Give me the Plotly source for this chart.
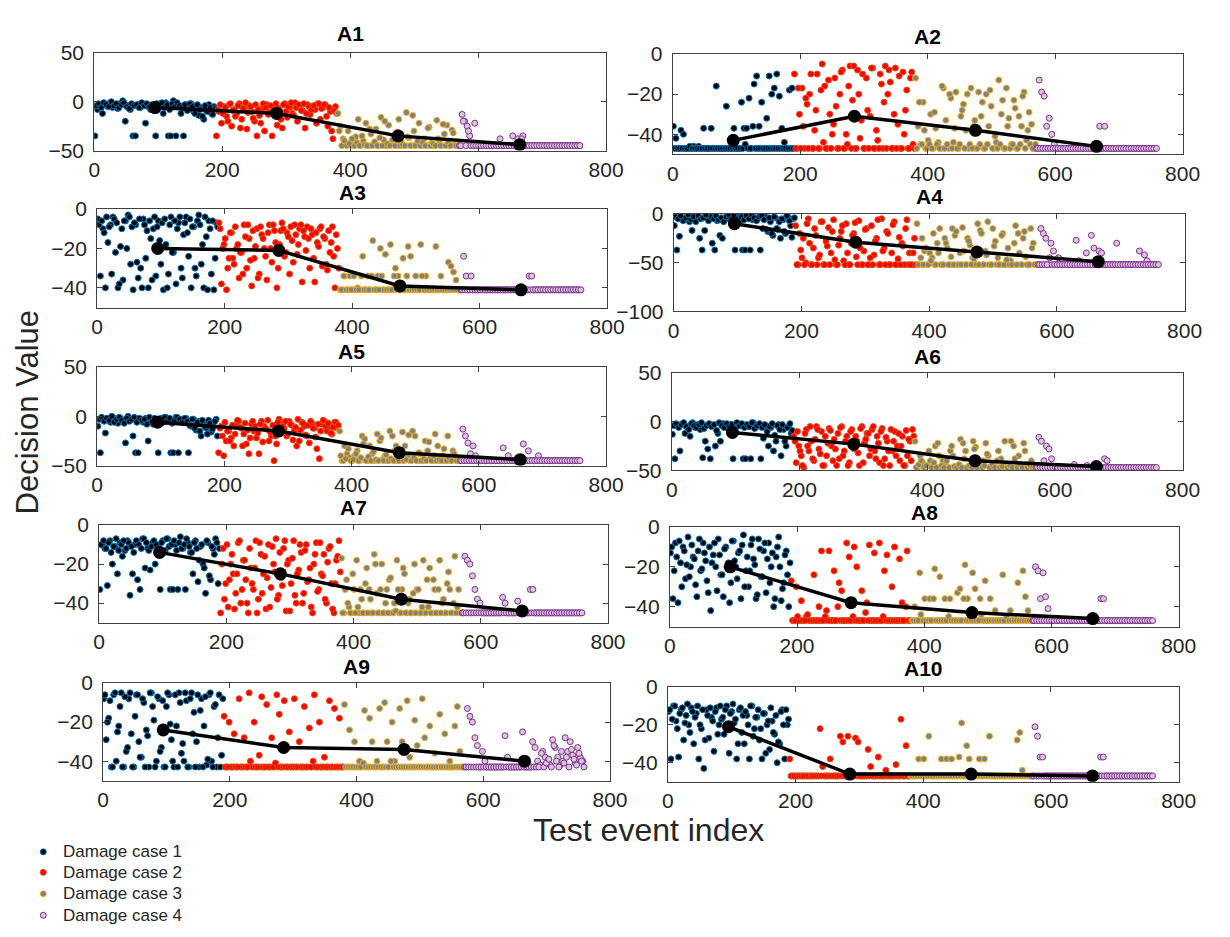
import plotly.graph_objects as go

# ---------------- data ----------------
case_names = ["Damage case 1", "Damage case 2", "Damage case 3", "Damage case 4"]
case_start = [0, 190, 380, 570]          # first test-event index of each case
case_len = 190
mean_x = [95, 285, 475, 665]
panel_titles = ["A1", "A2", "A3", "A4", "A5", "A6", "A7", "A8", "A9", "A10"]
x_ticks = [0, 200, 400, 600, 800]

y_ranges = [[-50, 50], [-50, 0], [-50, 0], [-100, 0], [-50, 50],
            [-50, 50], [-50, 0], [-50, 0], [-50, 0], [-50, 0]]
y_ticks = [[-50, 0, 50], [-40, -20, 0], [-40, -20, 0], [-100, -50, 0], [-50, 0, 50],
           [-50, 0, 50], [-40, -20, 0], [-40, -20, 0], [-40, -20, 0], [-40, -20, 0]]

# each case: two interleaved samples (a = events 1,5,9..., b = events 3,7,11...)
# A1
a1_c1 = [-35, -8, -3, -12, -2, -5, -1, -6, -3, -7, -2, 1, -20, -4, -8, -35, -35, -3, -6, -2, -22, -5, -8, -4,
         -35, -6, -2, -12, -1, -35, -35, 1, -35, -5, -12, -35, -3, -7, -2, -10, -4, -14, -6, -18, -9, -3, -12, -5]
a1_c1b = [-4, -2, -6, -1, -3, -5, 0, -4, -2, -6, -3, -1, -5, -7, -2, -4, -3, -6, -1, -4, -2, -5, -3, -7,
          -2, -4, -1, -6, -3, -8, -2, -5, -1, -4, -6, -3, -9, -2, -5, -12, -3, -8, -15, -4, -10, -6, -13, -7]
a1_c2 = [-35, -10, -22, -5, -15, -3, -25, -8, -12, -2, -18, -6, -28, -4, -10, -20, -35, -14, -7, -30, -3, -11, -35, -5,
         -24, -9, -27, -2, -16, -6, -12, -1, -20, -4, -9, -27, -3, -13, -5, -8, -2, -18, -6, -3, -25, -10, -38, -5]
a1_c2b = [-8, -3, -12, -6, -20, -2, -9, -15, -4, -27, -7, -1, -11, -5, -17, -3, -8, -22, -2, -6, -13, -4, -9, -2,
          -7, -18, -3, -10, -5, -1, -14, -6, -3, -9, -2, -12, -5, -8, -4, -22, -2, -7, -3, -15, -6, -30, -9, -12]
a1_c3 = [-12, -25, -38, -44, -30, -42, -45, -36, -18, -45, -40, -22, -45, -33, -43, -28, -45, -16, -39, -45, -24, -44, -35, -45,
         -18, -41, -45, -11, -37, -45, -30, -43, -22, -45, -38, -45, -26, -42, -45, -19, -40, -45, -33, -24, -45, -29, -44, -45]
a1_c3b = [-30, -45, -40, -45, -43, -38, -45, -42, -45, -35, -44, -45, -28, -45, -41, -45, -37, -45, -20, -43, -45, -39, -45, -31,
          -45, -44, -45, -36, -45, -14, -45, -40, -45, -42, -45, -27, -45, -43, -45, -38, -45, -23, -45, -41, -45, -32, -45, -45]
a1_c4 = [-45, -13, -20, -25, -35, -45, -22, -45, -45, -45, -45, -45, -45, -45, -45, -45, -38, -45, -45, -45, -45, -35, -45, -38,
         -45, -35, -45, -45, -45, -45, -45, -45, -45, -45, -45, -45, -45, -45, -45, -45, -45, -45, -45, -45, -45, -45, -45, -45]
a1_c4b = [-45, -20, -45, -30, -45, -45, -45, -45, -45, -45, -45, -45, -45, -45, -45, -45, -45, -45, -45, -45, -45, -45, -45, -45,
          -38, -45, -45, -45, -45, -45, -45, -45, -45, -45, -45, -45, -45, -45, -45, -45, -45, -45, -45, -45, -45, -45, -45, -45]
mean_a1 = [-6, -12, -35, -44]

# A2
a2_c1 = [-36, -42, -47, -38, -40, -47, -47, -47, -46, -47, -46, -47, -37, -47, -47, -37, -47, -16, -47, -47, -47, -26, -47, -47,
         -37, -47, -47, -24, -37, -37, -22, -47, -15, -11, -36, -24, -47, -32, -11, -20, -17, -10, -21, -37, -44, -47, -18, -17]
a2_c1b = [-47, -47, -47, -47, -47, -47, -46, -47, -47, -47, -47, -47, -47, -47, -47, -47, -47, -47, -47, -47, -47, -47, -47, -47,
          -47, -47, -47, -47, -45, -47, -47, -36, -47, -47, -47, -47, -47, -47, -47, -47, -47, -47, -47, -47, -47, -47, -47, -47]
a2_c2 = [-10, -47, -30, -17, -47, -25, -20, -47, -38, -10, -47, -5, -16, -47, -30, -40, -12, -47, -20, -8, -47, -45, -6, -23,
         -47, -8, -42, -10, -47, -28, -31, -7, -47, -43, -10, -47, -6, -20, -14, -47, -7, -35, -47, -9, -28, -47, -12, -45]
a2_c2b = [-47, -17, -47, -36, -22, -47, -10, -47, -28, -47, -18, -44, -47, -13, -47, -35, -26, -47, -9, -47, -40, -16, -47, -6,
          -47, -20, -33, -47, -12, -47, -7, -47, -38, -47, -15, -24, -47, -8, -47, -30, -47, -11, -47, -40, -18, -47, -9, -47]
a2_c3 = [-12, -36, -45, -24, -47, -43, -30, -47, -37, -44, -47, -17, -33, -47, -22, -44, -19, -47, -31, -25, -38, -47, -17, -36,
         -47, -19, -31, -47, -20, -36, -26, -47, -44, -13, -30, -47, -17, -32, -45, -23, -47, -31, -36, -19, -43, -29, -35, -47]
a2_c3b = [-47, -24, -45, -38, -47, -45, -47, -29, -45, -47, -16, -47, -45, -20, -47, -37, -47, -45, -28, -47, -20, -45, -47, -33,
          -47, -45, -24, -47, -45, -18, -47, -41, -47, -45, -23, -47, -36, -47, -45, -27, -47, -45, -21, -47, -38, -45, -47, -45]
a2_c4 = [-47, -13, -19, -21, -36, -32, -40, -45, -47, -47, -47, -47, -47, -47, -47, -47, -47, -47, -47, -47, -47, -47, -47, -47,
         -47, -36, -47, -36, -47, -47, -47, -47, -47, -47, -47, -47, -47, -47, -47, -47, -47, -47, -47, -47, -47, -47, -47, -47]
a2_c4b = [-47, -47, -47, -47, -47, -47, -47, -47, -47, -47, -47, -47, -47, -47, -47, -47, -47, -47, -47, -47, -47, -47, -47, -47,
          -47, -47, -47, -47, -47, -47, -47, -47, -47, -47, -47, -47, -47, -47, -47, -47, -47, -47, -47, -47, -47, -47, -47, -47]
mean_a2 = [-43, -31, -38, -46]

# A3
a3_c1 = [-5, -34, -10, -40, -17, -8, -4, -22, -40, -19, -36, -6, -3, -28, -41, -8, -35, -30, -5, -25, -40, -15, -10, -34,
         -6, -28, -41, -18, -33, -4, -22, -38, -7, -30, -13, -4, -24, -40, -9, -34, -3, -28, -40, -14, -6, -33, -41, -7]
a3_c1b = [-8, -6, -12, -4, -9, -33, -5, -7, -38, -10, -6, -20, -4, -9, -7, -27, -5, -40, -8, -11, -6, -36, -4, -9,
          -16, -7, -5, -40, -8, -22, -6, -10, -4, -35, -7, -12, -5, -9, -30, -6, -8, -18, -4, -41, -10, -6, -25, -9]
a3_c2 = [-7, -38, -18, -41, -25, -12, -28, -20, -35, -22, -8, -30, -15, -39, -25, -10, -33, -13, -20, -36, -8, -27, -11, -40,
         -18, -7, -24, -12, -33, -16, -8, -23, -10, -37, -14, -9, -30, -13, -37, -17, -10, -29, -15, -31, -22, -9, -40, -20]
a3_c2b = [-10, -20, -15, -30, -12, -25, -9, -18, -22, -33, -14, -8, -26, -11, -19, -35, -9, -15, -24, -12, -20, -8, -17, -30,
          -11, -10, -22, -14, -9, -27, -13, -18, -8, -11, -21, -15, -10, -25, -12, -19, -9, -14, -28, -11, -17, -24, -13, -30]
a3_c3 = [-41, -41, -34, -41, -34, -41, -41, -40, -41, -24, -41, -34, -41, -16, -41, -34, -20, -41, -23, -41, -18, -41, -30, -34,
         -41, -25, -41, -19, -24, -41, -34, -41, -18, -41, -34, -41, -41, -41, -19, -41, -34, -41, -41, -27, -29, -32, -36, -41]
a3_c3b = [-41, -34, -41, -41, -41, -34, -41, -41, -34, -41, -41, -41, -34, -41, -41, -41, -34, -41, -41, -41, -41, -34, -41, -41,
          -41, -41, -34, -41, -41, -41, -41, -41, -34, -41, -41, -41, -41, -41, -41, -41, -41, -41, -41, -41, -41, -41, -41, -41]
a3_c4 = [-41, -24, -34, -41, -34, -41, -41, -41, -41, -41, -41, -41, -41, -41, -41, -41, -41, -41, -41, -41, -41, -41, -41, -41,
         -41, -41, -41, -34, -34, -41, -41, -41, -41, -41, -41, -41, -41, -41, -41, -41, -41, -41, -41, -41, -41, -41, -41, -41]
a3_c4b = [-41, -41, -41, -41, -41, -41, -41, -41, -41, -41, -41, -41, -41, -41, -41, -41, -41, -41, -41, -41, -41, -41, -41, -41,
          -41, -41, -41, -41, -41, -41, -41, -41, -41, -41, -41, -41, -41, -41, -41, -41, -41, -41, -41, -41, -41, -41, -41, -41]
mean_a3 = [-20, -21, -39, -41]

# A4
a4_c1 = [-12, -37, -23, -4, -6, -3, -8, -17, -2, -5, -25, -37, -17, -4, -3, -30, -37, -7, -22, -25, -5, -2, -6, -4,
         -37, -3, -7, -37, -37, -2, -37, -6, -4, -5, -37, -15, -3, -18, -8, -22, -4, -16, -25, -6, -20, -3, -12, -5]
a4_c1b = [-3, -5, -2, -7, -4, -1, -6, -3, -8, -2, -5, -4, -1, -7, -3, -5, -2, -6, -4, -8, -3, -1, -5, -2,
          -7, -4, -3, -6, -2, -5, -1, -4, -7, -3, -2, -6, -16, -4, -20, -3, -15, -8, -5, -18, -2, -7, -24, -4]
a4_c2 = [-12, -52, -37, -25, -50, -5, -52, -35, -22, -45, -8, -52, -28, -14, -40, -6, -52, -32, -18, -48, -10, -52, -30, -20,
         -44, -7, -52, -38, -15, -52, -12, -42, -25, -52, -5, -35, -18, -52, -40, -8, -52, -24, -30, -52, -6, -40, -52, -25]
a4_c2b = [-52, -20, -45, -52, -10, -30, -52, -15, -52, -42, -8, -52, -33, -52, -18, -47, -52, -25, -12, -52, -40, -52, -22, -9,
          -52, -35, -52, -16, -52, -45, -52, -28, -6, -52, -38, -52, -20, -52, -11, -52, -46, -52, -33, -15, -52, -52, -40, -52]
a4_c3 = [-10, -52, -25, -38, -52, -40, -45, -52, -30, -15, -52, -25, -35, -52, -15, -22, -52, -40, -14, -52, -25, -32, -45, -52,
         -10, -17, -52, -38, -8, -52, -15, -28, -45, -52, -20, -52, -35, -48, -52, -12, -20, -52, -25, -44, -52, -15, -30, -52]
a4_c3b = [-52, -45, -52, -35, -52, -48, -20, -52, -40, -52, -52, -30, -52, -44, -52, -18, -52, -52, -38, -52, -28, -52, -46, -52,
          -52, -20, -52, -42, -52, -52, -33, -52, -52, -22, -52, -47, -52, -52, -30, -52, -40, -52, -18, -52, -52, -35, -52, -52]
a4_c4 = [-52, -15, -20, -25, -52, -30, -38, -52, -45, -52, -52, -52, -52, -52, -52, -27, -48, -52, -52, -40, -52, -22, -35, -52,
         -38, -40, -52, -52, -52, -52, -52, -30, -52, -52, -52, -52, -52, -52, -52, -52, -38, -52, -42, -48, -52, -52, -52, -52]
a4_c4b = [-52, -52, -52, -52, -45, -52, -52, -52, -52, -52, -52, -52, -52, -52, -52, -52, -52, -52, -52, -52, -52, -52, -52, -52,
          -52, -52, -52, -52, -52, -52, -52, -52, -52, -52, -52, -52, -52, -52, -52, -52, -52, -52, -52, -52, -52, -52, -52, -52]
mean_a4 = [-10, -29, -39, -49]

# A5
a5_c1 = [-10, -37, -4, -17, -2, -6, -1, -3, -7, -2, -5, -27, 0, -4, -20, -37, -37, -3, -6, -2, -25, -5, -8, -3,
         -37, -2, -6, -1, -4, -37, -37, -1, -37, -3, -6, -2, -37, -10, -3, -14, -5, -20, -8, -12, -4, -16, -6, -3]
a5_c1b = [-3, -1, -5, -2, -4, 0, -6, -3, -1, -4, -7, -2, -5, -3, -1, -6, -2, -4, -3, -8, -1, -5, -2, -4,
          -6, -3, -1, -5, -2, -7, -4, -1, -3, -6, -2, -5, -9, -3, -12, -6, -15, -4, -10, -18, -7, -13, -5, -20]
a5_c2 = [-37, -10, -40, -25, -15, -22, -30, -8, -5, -12, -18, -28, -38, -8, -15, -22, -38, -5, -10, -13, -25, -20, -45, -28,
         -3, -8, -12, -20, -5, -9, -15, -30, -25, -6, -10, -20, -27, -7, -12, -33, -43, -8, -5, -15, -10, -18, -6, -12]
a5_c2b = [-12, -20, -6, -15, -25, -9, -18, -4, -11, -30, -7, -14, -22, -5, -10, -17, -8, -26, -12, -4, -16, -9, -20, -6,
          -13, -10, -5, -18, -8, -24, -11, -3, -14, -7, -19, -9, -5, -12, -21, -8, -15, -4, -10, -7, -17, -11, -6, -9]
a5_c3 = [-15, -45, -30, -38, -42, -45, -40, -35, -45, -20, -23, -45, -30, -38, -45, -18, -25, -44, -40, -45, -15, -20, -35, -45,
         -45, -16, -30, -40, -45, -15, -20, -45, -38, -45, -25, -35, -43, -45, -18, -30, -45, -40, -45, -20, -45, -35, -42, -45]
a5_c3b = [-40, -45, -43, -33, -45, -44, -38, -45, -42, -28, -45, -41, -45, -36, -44, -45, -22, -45, -39, -45, -43, -45, -30, -45,
          -41, -45, -44, -19, -45, -42, -45, -37, -45, -43, -45, -26, -45, -40, -45, -44, -45, -33, -45, -42, -45, -38, -45, -45]
a5_c4 = [-45, -13, -20, -27, -38, -30, -40, -45, -45, -45, -45, -45, -45, -45, -45, -45, -45, -32, -45, -40, -45, -45, -45, -45,
         -45, -28, -45, -35, -45, -45, -45, -40, -45, -45, -45, -45, -45, -45, -45, -45, -45, -45, -45, -45, -45, -45, -45, -45]
a5_c4b = [-45, -45, -45, -45, -45, -45, -45, -45, -45, -45, -45, -45, -45, -45, -45, -45, -45, -45, -45, -45, -45, -45, -45, -45,
          -45, -45, -45, -45, -45, -45, -45, -45, -45, -45, -45, -45, -45, -45, -45, -45, -45, -45, -45, -45, -45, -45, -45, -45]
mean_a5 = [-6, -15, -37, -44]

# A6
a6_c1 = [-13, -38, -4, -30, -2, -12, -5, -15, -1, -6, -3, -8, -37, -20, -28, -38, -4, -25, -12, -20, -2, -5, -7, -3,
         -38, -6, -2, -4, -38, -38, -5, -38, -1, -6, -3, -38, -17, -4, -25, -6, -30, -20, -3, -35, -8, -25, -5, -12]
a6_c1b = [-4, -2, -6, -3, -1, -5, -8, -2, -4, -6, -3, -1, -7, -4, -2, -5, -3, -9, -1, -4, -6, -2, -5, -3,
          -8, -1, -4, -2, -6, -3, -5, -1, -7, -4, -2, -6, -3, -10, -5, -2, -14, -4, -8, -3, -20, -6, -2, -9]
a6_c2 = [-15, -42, -25, -35, -47, -8, -30, -20, -40, -5, -28, -10, -45, -35, -7, -25, -18, -45, -38, -5, -30, -15, -42, -8,
         -28, -20, -45, -5, -22, -12, -35, -8, -30, -15, -42, -7, -38, -20, -45, -30, -10, -25, -40, -15, -45, -35, -20, -8]
a6_c2b = [-20, -10, -30, -45, -12, -25, -5, -38, -18, -8, -33, -45, -15, -22, -9, -40, -28, -12, -6, -35, -20, -45, -10, -25,
          -15, -32, -7, -42, -18, -12, -28, -5, -38, -22, -10, -45, -16, -30, -8, -20, -35, -12, -25, -45, -9, -18, -40, -15]
a6_c3 = [-20, -47, -35, -42, -47, -45, -40, -47, -25, -22, -47, -40, -44, -47, -30, -35, -47, -45, -18, -22, -30, -47, -45, -20,
         -26, -44, -47, -40, -22, -35, -47, -45, -47, -30, -38, -47, -44, -47, -20, -25, -47, -35, -47, -22, -44, -47, -40, -47]
a6_c3b = [-47, -44, -40, -47, -45, -30, -47, -42, -47, -35, -45, -47, -40, -47, -25, -46, -47, -44, -47, -38, -47, -45, -47, -28,
          -47, -42, -47, -45, -33, -47, -44, -47, -40, -47, -46, -20, -47, -45, -47, -38, -47, -44, -47, -30, -47, -45, -47, -47]
a6_c4 = [-47, -16, -20, -40, -25, -28, -38, -47, -47, -47, -47, -47, -47, -47, -47, -44, -47, -47, -47, -47, -45, -47, -47, -47,
         -47, -47, -47, -38, -40, -47, -47, -47, -47, -47, -47, -47, -47, -47, -47, -47, -47, -47, -47, -47, -47, -47, -47, -47]
a6_c4b = [-47, -47, -47, -47, -47, -47, -47, -47, -47, -47, -47, -47, -47, -47, -47, -47, -47, -47, -47, -47, -47, -47, -47, -47,
          -47, -47, -47, -47, -47, -47, -47, -47, -47, -47, -47, -47, -47, -47, -47, -47, -47, -47, -47, -47, -47, -47, -47, -47]
mean_a6 = [-11, -23, -40, -46]

# A7
a7_c1 = [-33, -10, -12, -31, -8, -20, -11, -25, -9, -16, -13, -8, -36, -25, -10, -28, -33, -7, -22, -12, -23, -9, -20, -11,
         -33, -8, -13, -7, -33, -33, -10, -33, -6, -12, -33, -9, -14, -25, -8, -29, -11, -20, -35, -9, -28, -12, -7, -30]
a7_c1b = [-10, -8, -12, -9, -14, -11, -7, -13, -10, -8, -12, -9, -11, -14, -8, -10, -12, -7, -9, -13, -11, -8, -10, -12,
          -9, -14, -7, -11, -10, -8, -13, -9, -12, -10, -7, -11, -14, -9, -12, -18, -10, -22, -8, -26, -11, -15, -9, -12]
a7_c2 = [-45, -12, -30, -42, -20, -25, -35, -9, -40, -18, -28, -45, -22, -33, -8, -38, -15, -25, -43, -10, -32, -20, -7, -36,
         -27, -12, -44, -18, -30, -8, -40, -23, -14, -35, -10, -28, -42, -20, -9, -33, -25, -15, -40, -12, -30, -45, -18, -8]
a7_c2b = [-20, -38, -10, -28, -15, -43, -25, -8, -33, -18, -40, -12, -30, -22, -45, -9, -35, -16, -27, -42, -11, -24, -38, -14,
          -31, -8, -20, -44, -17, -36, -25, -10, -40, -13, -29, -22, -45, -15, -34, -9, -26, -38, -19, -11, -43, -30, -16, -24]
a7_c3 = [-17, -45, -28, -42, -45, -33, -18, -45, -38, -45, -22, -33, -45, -15, -35, -45, -20, -45, -33, -28, -45, -40, -18, -45,
         -33, -25, -45, -38, -45, -20, -33, -45, -42, -45, -28, -22, -45, -33, -45, -18, -40, -45, -30, -33, -45, -16, -42, -45]
a7_c3b = [-45, -33, -40, -45, -25, -45, -42, -33, -45, -30, -45, -38, -45, -20, -45, -33, -45, -40, -45, -27, -45, -44, -33, -45,
          -22, -45, -40, -45, -35, -45, -33, -45, -18, -45, -42, -45, -28, -45, -33, -45, -38, -45, -24, -45, -40, -45, -33, -45]
a7_c4 = [-45, -16, -18, -20, -26, -33, -38, -40, -45, -45, -45, -45, -45, -45, -45, -45, -37, -40, -45, -45, -45, -45, -39, -45,
         -45, -45, -45, -33, -33, -45, -45, -45, -45, -45, -45, -45, -45, -45, -45, -45, -45, -45, -45, -45, -45, -45, -45, -45]
a7_c4b = [-45, -45, -45, -45, -45, -45, -45, -45, -45, -45, -45, -45, -45, -45, -45, -45, -45, -45, -45, -45, -45, -45, -45, -45,
          -45, -45, -45, -45, -45, -45, -45, -45, -45, -45, -45, -45, -45, -45, -45, -45, -45, -45, -45, -45, -45, -45, -45, -45]
mean_a7 = [-14, -25, -38, -44]

# A8
a8_c1 = [-13, -36, -8, -38, -18, -10, -26, -5, -20, -15, -29, -12, -22, -8, -17, -33, -42, -14, -20, -6, -24, -35, -10, -18,
         -28, -7, -20, -13, -36, -4, -22, -30, -9, -16, -36, -6, -25, -12, -33, -8, -20, -40, -15, -5, -37, -28, -12, -40]
a8_c1b = [-10, -22, -15, -7, -30, -12, -19, -25, -9, -16, -35, -6, -21, -13, -27, -10, -18, -8, -32, -14, -24, -11, -20, -38,
          -7, -17, -26, -12, -9, -30, -15, -22, -6, -19, -34, -11, -25, -8, -16, -28, -13, -36, -10, -20, -31, -14, -24, -18]
a8_c2 = [-27, -47, -30, -47, -37, -47, -45, -47, -47, -24, -47, -40, -12, -47, -42, -12, -47, -22, -47, -28, -32, -47, -8, -15,
         -47, -10, -20, -47, -32, -47, -38, -9, -47, -13, -47, -8, -47, -22, -14, -47, -30, -10, -47, -16, -38, -47, -12, -47]
a8_c2b = [-47, -47, -45, -47, -47, -47, -44, -47, -47, -47, -47, -47, -47, -45, -47, -47, -47, -47, -40, -47, -47, -47, -47, -47,
          -45, -47, -47, -47, -47, -43, -47, -47, -47, -47, -47, -47, -45, -47, -47, -47, -47, -47, -47, -47, -47, -40, -47, -47]
a8_c3 = [-47, -40, -47, -23, -47, -36, -47, -36, -47, -21, -47, -25, -47, -36, -47, -36, -47, -47, -33, -31, -47, -19, -36, -47,
         -23, -31, -47, -36, -47, -27, -47, -36, -47, -42, -47, -47, -24, -47, -47, -42, -47, -47, -28, -47, -22, -35, -42, -47]
a8_c3b = [-47, -47, -47, -44, -47, -47, -47, -47, -36, -47, -47, -47, -47, -47, -45, -47, -47, -47, -47, -47, -36, -47, -47, -47,
          -47, -47, -47, -44, -47, -47, -47, -47, -47, -47, -47, -47, -47, -45, -47, -47, -47, -47, -47, -47, -47, -47, -47, -47]
a8_c4 = [-47, -20, -22, -36, -23, -35, -41, -47, -47, -47, -47, -47, -47, -47, -47, -47, -47, -47, -47, -47, -47, -47, -47, -47,
         -47, -47, -47, -36, -36, -47, -47, -47, -47, -47, -47, -47, -47, -47, -47, -47, -47, -47, -47, -47, -47, -47, -47, -47]
a8_c4b = [-47, -47, -47, -47, -47, -47, -47, -47, -47, -47, -47, -47, -47, -47, -47, -47, -47, -47, -47, -47, -47, -47, -47, -47,
          -47, -47, -47, -47, -47, -47, -47, -47, -47, -47, -47, -47, -47, -47, -47, -47, -47, -47, -47, -47, -47, -47, -47, -47]
mean_a8 = [-20, -38, -43, -46]

# A9
a9_c1 = [-8, -29, -18, -43, -6, -40, -22, -5, -43, -35, -8, -26, -43, -6, -30, -38, -10, -24, -43, -5, -19, -40, -8, -33,
         -43, -12, -6, -29, -43, -22, -5, -36, -40, -9, -43, -5, -15, -30, -43, -8, -22, -42, -6, -40, -12, -43, -6, -37]
a9_c1b = [-6, -20, -9, -43, -5, -25, -12, -43, -7, -33, -5, -43, -17, -6, -38, -8, -43, -27, -5, -12, -43, -7, -35, -9,
          -43, -5, -21, -40, -6, -43, -10, -31, -5, -43, -8, -26, -43, -6, -14, -43, -7, -39, -5, -43, -11, -28, -43, -8]
a9_c2 = [-17, -43, -20, -43, -26, -43, -8, -43, -28, -43, -5, -43, -20, -43, -37, -7, -43, -11, -43, -28, -43, -6, -16, -43,
         -9, -43, -25, -43, -8, -43, -30, -43, -12, -43, -23, -43, -6, -43, -20, -43, -38, -43, -9, -43, -13, -43, -18, -43]
a9_c2b = [-43, -43, -43, -43, -43, -43, -43, -43, -43, -43, -40, -43, -43, -43, -43, -43, -43, -43, -43, -43, -41, -43, -43, -43,
          -43, -43, -43, -43, -43, -43, -43, -43, -43, -43, -43, -40, -43, -43, -43, -43, -43, -43, -43, -43, -43, -43, -43, -43]
a9_c3 = [-11, -43, -24, -43, -30, -43, -40, -43, -14, -43, -18, -30, -43, -40, -13, -43, -10, -30, -43, -20, -40, -43, -13, -30,
         -43, -9, -38, -43, -19, -32, -43, -8, -28, -43, -22, -43, -36, -43, -16, -43, -26, -43, -40, -43, -22, -12, -35, -43]
a9_c3b = [-43, -43, -43, -43, -43, -43, -43, -41, -43, -43, -43, -43, -43, -43, -43, -43, -43, -43, -40, -43, -43, -43, -43, -43,
          -43, -43, -43, -43, -43, -43, -43, -43, -43, -43, -43, -43, -43, -43, -43, -43, -43, -43, -43, -43, -43, -43, -43, -43]
a9_c4 = [-43, -13, -17, -20, -28, -32, -43, -35, -40, -43, -43, -43, -43, -43, -43, -43, -27, -38, -43, -43, -43, -43, -43, -25,
         -43, -43, -43, -30, -33, -40, -42, -35, -38, -40, -42, -29, -33, -38, -42, -40, -28, -35, -30, -37, -41, -33, -38, -40]
a9_c4b = [-43, -43, -43, -43, -43, -43, -43, -43, -43, -43, -43, -43, -43, -43, -43, -43, -43, -43, -43, -43, -43, -43, -43, -43,
          -43, -43, -43, -43, -43, -43, -36, -43, -41, -39, -43, -32, -40, -43, -35, -41, -38, -43, -34, -39, -42, -36, -40, -43]
mean_a9 = [-24, -33, -34, -40]

# A10
a10_c1 = [-13, -38, -10, -18, -37, -12, -28, -15, -20, -11, -30, -14, -38, -22, -43, -12, -27, -16, -34, -11, -20, -17, -25, -10,
          -35, -13, -19, -38, -12, -24, -30, -15, -38, -10, -22, -16, -28, -38, -14, -20, -33, -18, -25, -40, -30, -12, -38, -20]
a10_c1b = [-12, -17, -10, -22, -14, -11, -19, -9, -24, -13, -16, -10, -20, -12, -28, -15, -11, -18, -13, -25, -10, -16, -12, -21,
           -14, -9, -17, -30, -11, -15, -13, -20, -10, -26, -16, -12, -22, -14, -35, -18, -11, -24, -15, -29, -13, -20, -12, -17]
a10_c2 = [-38, -47, -47, -47, -47, -47, -47, -47, -47, -47, -47, -47, -22, -42, -47, -47, -38, -47, -47, -47, -26, -29, -47, -26,
          -47, -47, -27, -29, -47, -47, -47, -33, -42, -47, -47, -37, -47, -47, -44, -47, -47, -47, -41, -47, -17, -47, -31, -47]
a10_c2b = [-47, -47, -47, -47, -47, -47, -47, -47, -47, -47, -47, -47, -47, -47, -47, -47, -47, -47, -47, -47, -47, -47, -47, -47,
           -47, -47, -47, -47, -47, -47, -47, -47, -47, -47, -47, -47, -47, -47, -47, -47, -47, -47, -47, -47, -47, -47, -47, -47]
a10_c3 = [-47, -47, -47, -38, -47, -38, -47, -26, -47, -47, -47, -47, -38, -47, -38, -47, -38, -47, -47, -37, -19, -47, -31, -38,
          -47, -47, -47, -38, -47, -38, -47, -26, -47, -47, -47, -47, -47, -47, -47, -47, -47, -47, -28, -24, -44, -47, -47, -47]
a10_c3b = [-47, -47, -47, -47, -47, -47, -47, -47, -47, -47, -47, -47, -47, -47, -47, -47, -47, -47, -47, -47, -47, -47, -47, -47,
           -47, -47, -47, -47, -47, -47, -47, -47, -47, -47, -47, -47, -47, -47, -47, -47, -47, -47, -47, -47, -47, -47, -47, -47]
a10_c4 = [-47, -21, -26, -37, -37, -47, -47, -47, -47, -47, -47, -47, -47, -47, -47, -47, -47, -47, -47, -47, -47, -47, -47, -47,
          -47, -47, -47, -37, -37, -47, -47, -47, -47, -47, -47, -47, -47, -47, -47, -47, -47, -47, -47, -47, -47, -47, -47, -47]
a10_c4b = [-47, -47, -47, -47, -47, -47, -47, -47, -47, -47, -47, -47, -47, -47, -47, -47, -47, -47, -47, -47, -47, -47, -47, -47,
           -47, -47, -47, -47, -47, -47, -47, -47, -47, -47, -47, -47, -47, -47, -47, -47, -47, -47, -47, -47, -47, -47, -47, -47]
mean_a10 = [-21, -46, -46, -47]

panel_data = [
    [(a1_c1, a1_c1b), (a1_c2, a1_c2b), (a1_c3, a1_c3b), (a1_c4, a1_c4b)],
    [(a2_c1, a2_c1b), (a2_c2, a2_c2b), (a2_c3, a2_c3b), (a2_c4, a2_c4b)],
    [(a3_c1, a3_c1b), (a3_c2, a3_c2b), (a3_c3, a3_c3b), (a3_c4, a3_c4b)],
    [(a4_c1, a4_c1b), (a4_c2, a4_c2b), (a4_c3, a4_c3b), (a4_c4, a4_c4b)],
    [(a5_c1, a5_c1b), (a5_c2, a5_c2b), (a5_c3, a5_c3b), (a5_c4, a5_c4b)],
    [(a6_c1, a6_c1b), (a6_c2, a6_c2b), (a6_c3, a6_c3b), (a6_c4, a6_c4b)],
    [(a7_c1, a7_c1b), (a7_c2, a7_c2b), (a7_c3, a7_c3b), (a7_c4, a7_c4b)],
    [(a8_c1, a8_c1b), (a8_c2, a8_c2b), (a8_c3, a8_c3b), (a8_c4, a8_c4b)],
    [(a9_c1, a9_c1b), (a9_c2, a9_c2b), (a9_c3, a9_c3b), (a9_c4, a9_c4b)],
    [(a10_c1, a10_c1b), (a10_c2, a10_c2b), (a10_c3, a10_c3b), (a10_c4, a10_c4b)],
]
panel_means = [mean_a1, mean_a2, mean_a3, mean_a4, mean_a5,
               mean_a6, mean_a7, mean_a8, mean_a9, mean_a10]

# ---------------- styling / layout ----------------
W, H = 1230, 937
fill_colors = ["#000000", "#FF0000", "#808080", "#D9C6DB"]
edge_colors = ["#0072BD", "#D95319", "#EDB120", "#7E2F8E"]
# panel boxes in pixels: x0, x1, y0(top), y1(bottom)
boxes = [
    (90, 612, 42, 142), (680, 1200, 43, 146),
    (93, 613, 202, 303), (681, 1202, 207, 307),
    (93, 612, 364, 465), (679, 1200, 370, 470),
    (95, 614, 526, 626), (677, 1196, 528, 630),
    (99, 616, 688, 788), (675, 1196, 692, 789),
]
title_y = [22, 25, 185, 189, 348, 353, 508, 513, 671, 673]
legend_row_y = [861, 882, 904, 926]      # legend layout (pixels)
legend_sym_x, legend_txt_x = 38, 57
LEG_W, LEG_TOP = 200, 845                # pixel box used by the legend keys
FONT = "Arial, Liberation Sans, Helvetica, sans-serif"
TXT = "#262626"
AX = "#404040"

fig = go.Figure()
layout_axes = {}
annotations = []
for p in range(10):
    xa = "x" if p == 0 else f"x{p+1}"
    ya = "y" if p == 0 else f"y{p+1}"
    for k in range(4):
        va, vb = panel_data[p][k]
        xs = [case_start[k] + 1 + i * case_len / len(va) for i in range(len(va))]
        xs += [case_start[k] + 1 + (i + 0.5) * case_len / len(vb) for i in range(len(vb))]
        fig.add_trace(go.Scatter(
            x=xs, y=list(va) + list(vb), mode="markers", xaxis=xa, yaxis=ya,
            name=case_names[k], showlegend=False,
            marker=dict(size=6, color=fill_colors[k],
                        line=dict(color=edge_colors[k], width=1)),
            hoverinfo="skip"))
    fig.add_trace(go.Scatter(
        x=mean_x, y=panel_means[p], mode="lines+markers", xaxis=xa, yaxis=ya,
        showlegend=False, line=dict(color="black", width=3.5),
        marker=dict(size=13, color="black"), hoverinfo="skip"))

    x0, x1, y0, y1 = boxes[p]
    common = dict(showline=True, linecolor=AX, linewidth=1, mirror="ticks",
                  ticks="inside", ticklen=5, tickcolor=AX, showgrid=False,
                  zeroline=False, tickfont=dict(family=FONT, size=21, color=TXT))
    layout_axes["xaxis" if p == 0 else f"xaxis{p+1}"] = dict(
        domain=[x0 / W, x1 / W], range=[0, 800], tickvals=x_ticks,
        anchor=ya, ticklabelstandoff=0, **common)
    layout_axes["yaxis" if p == 0 else f"yaxis{p+1}"] = dict(
        domain=[1 - y1 / H, 1 - y0 / H], range=y_ranges[p], tickvals=y_ticks[p],
        anchor=xa, ticklabelstandoff=5, **common)
    annotations.append(dict(
        text=f"<b>{panel_titles[p]}</b>", x=(x0 + x1) / 2 / W, y=1 - title_y[p] / H,
        xref="paper", yref="paper", xanchor="center", yanchor="middle", borderpad=0,
        showarrow=False, font=dict(family=FONT, size=21, color="black")))

# legend keys drawn on a small hidden axis measured in pixels
fig.add_trace(go.Scatter(
    x=[legend_sym_x] * 4, y=legend_row_y, mode="markers", xaxis="x11", yaxis="y11",
    showlegend=False, hoverinfo="skip", cliponaxis=False,
    marker=dict(size=6, color=fill_colors, line=dict(color=edge_colors, width=1))))
layout_axes["xaxis11"] = dict(domain=[0, LEG_W / W], range=[0, LEG_W], visible=False,
                              fixedrange=True, anchor="y11")
layout_axes["yaxis11"] = dict(domain=[0, (H - LEG_TOP) / H], range=[H, LEG_TOP], visible=False,
                              fixedrange=True, anchor="x11")
for name, yy in zip(case_names, legend_row_y):
    annotations.append(dict(
        text=name, x=legend_txt_x / W, y=1 - yy / H, xref="paper", yref="paper",
        xanchor="left", yanchor="middle", showarrow=False, borderpad=0,
        font=dict(family=FONT, size=17, color=TXT)))

annotations.append(dict(
    text="Decision Value", x=22 / W, y=1 - 411 / H, xref="paper", yref="paper",
    textangle=-90, showarrow=False, xanchor="center", yanchor="middle",
    font=dict(family=FONT, size=31, color=TXT)))
annotations.append(dict(
    text="Test event index", x=655 / W, y=1 - 839 / H, xref="paper", yref="paper",
    showarrow=False, xanchor="center", yanchor="middle",
    font=dict(family=FONT, size=32, color=TXT)))

fig.update_layout(
    width=W, height=H, margin=dict(l=0, r=0, t=0, b=0),
    paper_bgcolor="white", plot_bgcolor="rgba(0,0,0,0)",
    annotations=annotations, showlegend=False,
    **layout_axes)

fig.write_html("out.html", config={"displayModeBar": False},
               post_script="document.body.style.margin='0';document.body.style.overflow='hidden';")
